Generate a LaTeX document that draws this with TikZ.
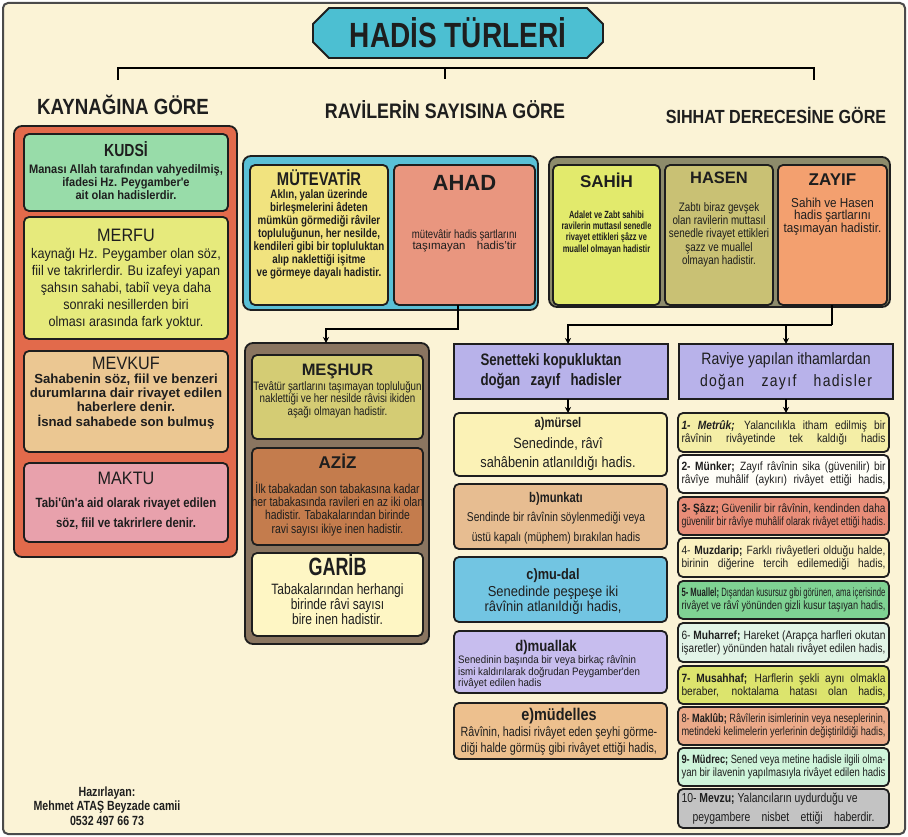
\documentclass[tikz,border=0pt]{standalone}
\usepackage{fontspec}
\usepackage{graphicx}
\setmainfont{Liberation Sans}
\newfontfamily\fA{Liberation Sans}[FakeStretch=0.72]
\newfontfamily\fB{Liberation Sans}[FakeStretch=0.80]
\newfontfamily\fC{Liberation Sans}[FakeStretch=0.85]
\newfontfamily\fD{Liberation Sans}[FakeStretch=0.90]
\newcommand\fz[2]{\fontsize{#1}{#2}\selectfont}
\newlength\fitw \setlength\fitw{204pt}
\newlength\tmpw
\newcommand\fitto[2]{\settowidth\tmpw{#2}\ifdim\tmpw>#1\relax\resizebox{#1}{\height}{#2}\else\makebox[#1][s]{#2}\fi}
\newcommand\fitl[1]{\fitto{\fitw}{#1}}
\usetikzlibrary{shapes.misc,arrows.meta,calc}
\definecolor{cream}{HTML}{FBF3D6}
\definecolor{ink}{HTML}{1E1E1E}
\definecolor{frameC}{HTML}{4A4A4A}
\definecolor{cTitle}{HTML}{4CBFD2}
\definecolor{cLeft}{HTML}{E26A4B}
\definecolor{cKudsi}{HTML}{98DCA9}
\definecolor{cMerfu}{HTML}{E6EA7C}
\definecolor{cMevkuf}{HTML}{EBC792}
\definecolor{cMaktu}{HTML}{E8A1AC}
\definecolor{cMidTop}{HTML}{5AC0D6}
\definecolor{cMutev}{HTML}{F1E37F}
\definecolor{cAhad}{HTML}{E9967F}
\definecolor{cRightTop}{HTML}{8D8B6B}
\definecolor{cSahih}{HTML}{E2EA6C}
\definecolor{cHasen}{HTML}{C9C174}
\definecolor{cZayif}{HTML}{F3A06F}
\definecolor{cMidLow}{HTML}{8A7560}
\definecolor{cMeshur}{HTML}{D4CC74}
\definecolor{cAziz}{HTML}{C47C4D}
\definecolor{cGarib}{HTML}{FEF6C4}
\definecolor{cLav}{HTML}{B8B2EA}
\definecolor{cMursel}{HTML}{FBF2B6}
\definecolor{cMunkati}{HTML}{E7BD91}
\definecolor{cMudal}{HTML}{72C5E2}
\definecolor{cMuallak}{HTML}{C7BDEE}
\definecolor{cMudelles}{HTML}{EDC08E}
\definecolor{rA}{HTML}{F4EEA6}
\definecolor{rB}{HTML}{FFFEF8}
\definecolor{rC}{HTML}{E88D78}
\definecolor{rD}{HTML}{FAF1C0}
\definecolor{rE}{HTML}{7FD293}
\definecolor{rF}{HTML}{E2F4E7}
\definecolor{rG}{HTML}{DCE46D}
\definecolor{rH}{HTML}{EBAA89}
\definecolor{rI}{HTML}{CFF4DA}
\definecolor{rJ}{HTML}{C3C3C3}
\tikzset{
 bx/.style={draw=ink, line width=1.8pt, rounded corners=5pt, anchor=north west, inner sep=0pt, outer sep=0pt},
 ct/.style={draw=ink, line width=1.8pt, rounded corners=8pt, anchor=north west, inner sep=0pt, outer sep=0pt},
 chbox/.style={chamfered rectangle, chamfered rectangle xsep=6pt, chamfered rectangle ysep=6pt, draw=ink, line width=1.8pt, inner sep=0pt, outer sep=0pt},
 tx/.style={inner sep=0pt, align=center, text=ink, anchor=north},
 hdr/.style={inner sep=0pt, text=ink, font=\fC\bfseries},
 conn/.style={line width=2pt, draw=black},
 arr/.style={conn, -{Stealth[length=6pt,width=6pt]}},
}
\begin{document}
\begin{tikzpicture}[x=1pt,y=-1pt]
\useasboundingbox (0,0) rectangle (908,837);
\fill[white] (0,0) rectangle (908,837);
\draw[fill=cream, draw=frameC, line width=2pt, rounded corners=5pt] (3,3) rectangle (905,834);

% title
\node[chbox, chamfered rectangle xsep=8pt, chamfered rectangle ysep=8pt, fill=cTitle, minimum width=290, minimum height=50, text=ink, font=\fB\bfseries\fz{35}{35}] (title) at (458,33) {HADİS TÜRLERİ};
\coordinate (lL) at (118,68);
\coordinate (lM) at (445,68);
\coordinate (lR) at (814,68);
\draw[conn] ([yshift=-12pt]lL) -- (lL) -- (lR) -- ([yshift=-12pt]lR);
\draw[conn] (lM) -- ([yshift=-11pt]lM);

% headers
\node[hdr, font=\fC\bfseries\fz{22}{22}] (h1) at (123,105) {KAYNAĞINA GÖRE};
\node[hdr, font=\fC\bfseries\fz{21}{21}] (h2) at (445,110) {RAVİLERİN SAYISINA GÖRE};
\node[hdr, font=\fC\bfseries\fz{19}{19}] (h3) at (776,115) {SIHHAT DERECESİNE GÖRE};

% left column
\node[ct, fill=cLeft, minimum width=223, minimum height=431] (leftC) at (14,126) {};
\node[bx, fill=cKudsi, minimum width=204, minimum height=77] (kudsi) at (24,134) {};
\node[bx, fill=cMerfu, minimum width=204, minimum height=122] (merfu) at (24,217) {};
\node[bx, fill=cMevkuf, minimum width=204, minimum height=101] (mevkuf) at (24,351) {};
\node[bx, fill=cMaktu, minimum width=204, minimum height=79] (maktu) at (24,463) {};
\node[tx, font=\fD\bfseries\fz{12.3}{13}] (kudsiT) at (126,141.5) {{\fB\fz{17.5}{18}KUDSİ}\\[4pt]Manası Allah tarafından vahyedilmiş,\\ifadesi Hz. Peygamber'e\\ait olan hadislerdir.};
\node[tx, font=\fD\fz{14}{17}] (merfuT) at (126,228.5) {{\fz{18}{18}MERFU}\\kaynağı Hz. Peygamber olan söz,\\fiil ve takrirlerdir. Bu izafeyi yapan\\şahsın sahabi, tabiî veya daha\\sonraki nesillerden biri\\olması arasında fark yoktur.};
\node[tx, font=\bfseries\fz{13.2}{14.3}] (mevkufT) at (126,356.5) {{\fD\mdseries\fz{18}{18}MEVKUF}\\Sahabenin söz, fiil ve benzeri\\durumlarına dair rivayet edilen\\haberlere denir.\\İsnad sahabede son bulmuş};
\node[tx, font=\fC\bfseries\fz{13.4}{20}] (maktuT) at (126,471.5) {{\fD\mdseries\fz{18}{18}MAKTU}\\[3.4pt]Tabi'ûn'a aid olarak rivayet edilen\\söz, fiil ve takrirlere denir.};

% middle top
\node[ct, fill=cMidTop, minimum width=295, minimum height=154] (midTop) at (243,156) {};
\node[bx, fill=cMutev, minimum width=138, minimum height=140] (mutev) at (250,165) {};
\node[bx, fill=cAhad, minimum width=141, minimum height=140] (ahad) at (394,165) {};
\node[tx, font=\fB\bfseries\fz{12.2}{13}] (mutevT) at (319,169.5) {{\fz{18.5}{18.5}MÜTEVATİR}\\[-0.5pt]Aklın, yalan üzerinde\\birleşmelerini âdeten\\mümkün görmediği râviler\\topluluğunun, her nesilde,\\kendileri gibi bir topluluktan\\alıp naklettiği işitme\\ve görmeye dayalı hadistir.};
\node[tx, font=\bfseries\fz{22}{22}] (ahadT) at (464.5,175.1) {AHAD};
\node[tx, anchor=center, font=\fB\fz{12}{11.5}] (ahadD) at (464.5,241) {mütevâtir hadis şartlarını\\{\rmfamily\fz{11.5}{11.5}\fitto{104pt}{taşımayan \ hadis'tir}}};

% right top
\node[ct, fill=cRightTop, minimum width=341, minimum height=150] (rightTop) at (549,157) {};
\node[bx, fill=cSahih, minimum width=107, minimum height=140] (sahih) at (553,165) {};
\node[bx, fill=cHasen, minimum width=108, minimum height=140] (hasen) at (665,165) {};
\node[bx, fill=cZayif, minimum width=109, minimum height=140] (zayif) at (778,165) {};
\node[tx, font=\fA\bfseries\fz{10.4}{11.3}] (sahihT) at (606.5,172.8) {{\rmfamily\fz{17}{17}SAHİH}\\[19.3pt]Adalet ve Zabt sahibi\\ravilerin muttasıl senedle\\rivayet ettikleri şâzz ve\\muallel olmayan hadistir};
\node[tx, font=\fB\fz{12.3}{13.25}] (hasenT) at (719,172.1) {{\rmfamily\bfseries\fz{16.5}{16.5}HASEN}\\[14.25pt]Zabtı biraz gevşek\\olan ravilerin muttasıl\\senedle rivayet ettikleri\\şazz ve muallel\\olmayan hadistir.};
\node[tx, font=\fD\fz{13}{12.5}] (zayifT) at (832.5,173.9) {{\rmfamily\bfseries\fz{17}{17}ZAYIF}\\[9.1pt]Sahih ve Hasen\\hadis şartlarını\\taşımayan hadistir.};

% middle lower
\node[ct, fill=cMidLow, minimum width=184, minimum height=301] (midLow) at (245,343) {};
\node[bx, fill=cMeshur, minimum width=171, minimum height=84] (meshur) at (252,355) {};
\node[bx, fill=cAziz, minimum width=171, minimum height=97] (aziz) at (252,448) {};
\node[bx, fill=cGarib, minimum width=171, minimum height=83] (garib) at (252,553) {};
\node[tx, font=\fB\fz{12.2}{12.5}] (meshurT) at (337.5,364.1) {{\rmfamily\bfseries\fz{16.5}{16.5}MEŞHUR}\\[2pt]Tevâtür şartlarını taşımayan topluluğun\\naklettiği ve her nesilde râvisi ikiden\\aşağı olmayan hadistir.};
\node[tx, font=\fB\fz{13}{13.3}] (azizT) at (337.5,453.8) {{\rmfamily\bfseries\fz{17}{17}AZİZ}\\[11.3pt]İlk tabakadan son tabakasına kadar\\her tabakasında ravileri en az iki olan\\hadistir. Tabakalarından birinde\\ravi sayısı ikiye inen hadistir.};
\node[tx, font=\fB\fz{15}{15}] (garibT) at (337.5,553.8) {{\fA\bfseries\fz{25}{25}GARİB}\\[4.1pt]Tabakalarından herhangi\\birinde râvi sayısı\\bire inen hadistir.};

% connectors middle
\draw[arr] ([xshift=-7pt]ahad.south) -- ++(0,24) -| ([xshift=-11pt]midLow.north);

% senetteki column
\node[chbox, fill=cLav, minimum width=214, minimum height=55] (sen) at (561,371.5) {};
\node[chbox, fill=cLav, minimum width=214, minimum height=55] (rav) at (786,371.5) {};
\node[tx, anchor=center, align=left, font=\fB\bfseries\fz{16.6}{20}] (senT) at (551,371) {Senetteki kopukluktan\\\fitto{141pt}{doğan zayıf hadisler}};
\node[tx, anchor=center, font=\fC\fz{16.5}{22}] (ravT) at (786,371) {Raviye yapılan ithamlardan\\\fitto{172pt}{\addfontfeatures{LetterSpace=8}doğan zayıf hadisler}};

\draw[conn] ([xshift=-1pt]zayif.south) -- ++(0,20) coordinate (zb);
\draw[arr] (zb) -| ([xshift=7pt]sen.north);
\draw[arr] (zb -| rav.north) -- (rav.north);

\node[bx, fill=cMursel, minimum width=213, minimum height=63] (mursel) at (454,413) {};
\node[bx, fill=cMunkati, minimum width=213, minimum height=65] (munkati) at (454,484) {};
\node[bx, fill=cMudal, minimum width=213, minimum height=65] (mudal) at (454,557) {};
\node[bx, fill=cMuallak, minimum width=213, minimum height=62] (muallak) at (454,631) {};
\node[bx, fill=cMudelles, minimum width=213, minimum height=56] (mudelles) at (454,703) {};
\draw[arr] ([xshift=7pt]sen.south) -- ([xshift=7pt]sen.south |- mursel.north);

\node[tx, font=\fC\fz{15}{19}] (murselT) at (558,417.5) {{\fB\bfseries\fz{14}{14}a)mürsel}\\[1.4pt]Senedinde, râvî\\sahâbenin atlanıldığı hadis.};
\node[tx, font=\fB\fz{12.8}{20}] (munkatiT) at (556,492.5) {{\bfseries\fz{14}{14}b)munkatı}\\[-1.4pt]Sendinde bir râvînin söylenmediği veya\\üstü kapalı (müphem) bırakılan hadis};
\node[tx, font=\fD\fz{14.4}{15}] (mudalT) at (553,568.1) {{\fC\bfseries\fz{15}{15}c)mu-dal}\\[2.8pt]Senedinde peşpeşe iki\\râvînin atlanıldığı hadis,};
\node[tx, anchor=center, font=\fC\bfseries\fz{15.5}{15.5}] (muallakT) at (546,647) {d)muallak};
\node[tx, anchor=north west, align=left, font=\fD\fz{10.8}{10}] (muallakD) at (458,655.8) {Senedinin başında bir veya birkaç râvînin\\ismi kaldırılarak doğrudan Peygamber'den\\rivâyet edilen hadis};
\node[tx, font=\fB\fz{13.4}{16}] (mudellesT) at (559,708.4) {{\fC\bfseries\fz{17}{17}e)müdelles}\\Râvînin, hadisi rivâyet eden şeyhi görme-\\diği halde görmüş gibi rivâyet ettiği hadis,};

% right list
\node[bx, fill=rA, minimum width=211, minimum height=39] (r1) at (678,413) {};
\node[bx, fill=rB, minimum width=211, minimum height=38] (r2) at (678,455) {};
\node[bx, fill=rC, minimum width=211, minimum height=38] (r3) at (678,497) {};
\node[bx, fill=rD, minimum width=211, minimum height=39] (r4) at (678,538) {};
\node[bx, fill=rE, minimum width=211, minimum height=38] (r5) at (678,581) {};
\node[bx, fill=rF, minimum width=211, minimum height=39] (r6) at (678,623) {};
\node[bx, fill=rG, minimum width=211, minimum height=38] (r7) at (678,666) {};
\node[bx, fill=rH, minimum width=211, minimum height=38] (r8) at (678,707) {};
\node[bx, fill=rI, minimum width=211, minimum height=38] (r9) at (678,748) {};
\node[bx, fill=rJ, minimum width=211, minimum height=39] (r10) at (678,789) {};
\draw[arr] (rav.south) -- (rav.south |- r1.north);

\tikzset{rt/.style={tx, anchor=center, font=\fC\fz{12}{13}}}
\node[rt] (r1T) at (r1.center) {\fitl{\textbf{\textit{1- Metrûk;}} Yalancılıkla itham edilmiş bir}\\\fitl{râvînin rivâyetinde tek kaldığı hadis}};
\node[rt] (r2T) at (r2.center) {\fitl{\textbf{2- Münker;} Zayıf râvînin sika (güvenilir) bir}\\\fitl{râvîye muhâlif (aykırı) rivâyet ettiği hadis,}};
\node[rt] (r3T) at (r3.center) {\fitl{\textbf{3- Şâzz;} Güvenilir bir râvînin, kendinden daha}\\\fitl{güvenilir bir râvîye muhâlif olarak rivâyet ettiği hadis.}};
\node[rt] (r4T) at (r4.center) {\fitl{4- \textbf{Muzdarip;} Farklı rivâyetleri olduğu halde,}\\\fitl{birinin diğerine tercih edilemediği hadis,}};
\node[rt] (r5T) at (r5.center) {\fitl{\textbf{5- Muallel;} Dışandan kusursuz gibi görünen, ama içerisinde}\\\fitl{rivâyet ve râvî yönünden gizli kusur taşıyan hadis,}};
\node[rt] (r6T) at (r6.center) {\fitl{6- \textbf{Muharref;} Hareket (Arapça harfleri okutan}\\\fitl{işaretler) yönünden hatalı rivâyet edilen hadis,}};
\node[rt] (r7T) at (r7.center) {\fitl{\textbf{7- Musahhaf;} Harflerin şekli aynı olmakla}\\\fitl{beraber, noktalama hatası olan hadis,}};
\node[rt] (r8T) at (r8.center) {\fitl{8- \textbf{Maklûb;} Râvîlerin isimlerinin veya neseplerinin,}\\\fitl{metindeki kelimelerin yerlerinin değiştirildiği hadis,}};
\node[rt] (r9T) at (r9.center) {\fitl{\textbf{9- Müdrec;} Sened veya metine hadisle ilgili olma-}\\\fitl{yan bir ilavenin yapılmasıyla rivâyet edilen hadis}};
\node[rt, font=\fB\fz{13}{19}] (r10T) at (r10.center) {\makebox[\fitw][l]{10- \textbf{Mevzu;} Yalancıların uydurduğu ve}\\\makebox[\fitw][c]{\fitto{182pt}{peygambere nisbet ettiği haberdir.}}};

% credits
\node[tx, anchor=center, font=\fB\bfseries\fz{13.3}{14.5}] (credit) at (107,806) {Hazırlayan:\\Mehmet ATAŞ Beyzade camii\\0532 497 66 73};
\end{tikzpicture}
\end{document}
